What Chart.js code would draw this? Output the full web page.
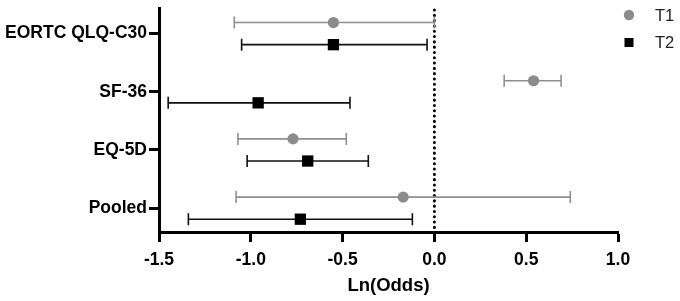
<!DOCTYPE html>
<html>
<head>
<meta charset="utf-8">
<script src="https://cdn.jsdelivr.net/npm/chart.js@4/dist/chart.umd.min.js"></script>
<style>
  html, body { margin: 0; padding: 0; background: #fff; }
  #wrap { width: 680px; height: 301px; }
</style>
</head>
<body>
<div id="wrap"><canvas id="forestChart"></canvas></div>
<script>
// Data
const categories = ['EORTC QLQ-C30', 'SF-36', 'EQ-5D', 'Pooled'];
const t1Mean  = [-0.55,  0.54, -0.77, -0.17];
const t1Lower = [-1.09,  0.38, -1.07, -1.08];
const t1Upper = [ 0.00,  0.69, -0.48,  0.74];
const t2Mean  = [-0.55, -0.96, -0.69, -0.73];
const t2Lower = [-1.05, -1.45, -1.02, -1.34];
const t2Upper = [-0.04, -0.46, -0.36, -0.12];
const xTicks  = [-1.5, -1.0, -0.5, 0.0, 0.5, 1.0];

const ROW_SHIFT = 0.19; // vertical split between T1 and T2 inside a row
const font = 'Liberation Sans, Arial, sans-serif';

function points(mean, lower, upper, shift) {
  return mean.map((m, i) => ({ x: m, y: i + shift, lo: lower[i], hi: upper[i] }));
}

// Error bars + dotted zero line
const errorBars = {
  id: 'errorBars',
  beforeDatasetsDraw(chart) {
    const { ctx, chartArea, scales: { x, y } } = chart;
    ctx.save();
    // dotted reference line
    ctx.strokeStyle = '#000';
    ctx.lineWidth = 3;
    ctx.lineCap = 'round';
    ctx.setLineDash([0.1, 5.2]);
    ctx.beginPath();
    ctx.moveTo(x.getPixelForValue(0), chartArea.top + 2);
    ctx.lineTo(x.getPixelForValue(0), chartArea.bottom);
    ctx.stroke();
    ctx.setLineDash([]);
    ctx.lineCap = 'butt';

    chart.data.datasets.forEach(ds => {
      ctx.strokeStyle = ds.barColor;
      ctx.lineWidth = 1.6;
      ds.data.forEach(p => {
        const py = y.getPixelForValue(p.y);
        const x1 = x.getPixelForValue(p.lo);
        const x2 = x.getPixelForValue(p.hi);
        ctx.beginPath();
        ctx.moveTo(x1, py); ctx.lineTo(x2, py);
        ctx.moveTo(x1, py - 6); ctx.lineTo(x1, py + 6);
        ctx.moveTo(x2, py - 6); ctx.lineTo(x2, py + 6);
        ctx.stroke();
      });
    });
    ctx.restore();
  }
};

// Legend top-right
const sideLegend = {
  id: 'sideLegend',
  afterDraw(chart) {
    const { ctx } = chart;
    ctx.save();
    ctx.font = '16.5px ' + font;
    ctx.textBaseline = 'middle';
    chart.data.datasets.forEach((ds, i) => {
      const cy = 15 + i * 27.5;
      ctx.fillStyle = ds.backgroundColor;
      if (ds.pointStyle === 'circle') {
        ctx.beginPath();
        ctx.arc(629, cy, 5.2, 0, Math.PI * 2);
        ctx.fill();
      } else {
        ctx.fillRect(624.5, cy - 4.5, 9, 9);
      }
      ctx.fillStyle = '#222';
      ctx.fillText(ds.label, 655, cy + 1);
    });
    ctx.restore();
  }
};

const ctx = document.getElementById('forestChart').getContext('2d');
new Chart(ctx, {
  type: 'scatter',
  data: {
    datasets: [
      {
        label: 'T1',
        data: points(t1Mean, t1Lower, t1Upper, -ROW_SHIFT),
        pointStyle: 'circle',
        pointRadius: 5.6,
        backgroundColor: '#8c8c8c',
        borderWidth: 0,
        barColor: '#8f8f8f'
      },
      {
        label: 'T2',
        data: points(t2Mean, t2Lower, t2Upper, ROW_SHIFT),
        pointStyle: 'rect',
        pointRadius: 8,
        backgroundColor: '#000',
        borderWidth: 0,
        barColor: '#111'
      }
    ]
  },
  options: {
    responsive: true,
    maintainAspectRatio: false,
    animation: false,
    layout: { padding: { top: 5, right: 62, left: 0, bottom: 0 } },
    plugins: {
      legend: { display: false },
      tooltip: { enabled: false }
    },
    scales: {
      x: {
        type: 'linear',
        min: -1.5,
        max: 1.0,
        afterBuildTicks: s => { s.ticks = xTicks.map(v => ({ value: v })); },
        afterFit: s => { s.height = 69; s.paddingLeft = 0; s.paddingRight = 0; },
        ticks: {
          color: '#000',
          font: { family: font, size: 17.5, weight: 'bold' },
          padding: 8,
          callback: v => v.toFixed(1)
        },
        grid: {
          drawOnChartArea: false,
          drawTicks: true,
          tickLength: 10,
          tickWidth: 3,
          tickColor: '#000'
        },
        border: { display: true, color: '#000', width: 3 },
        title: {
          display: true,
          text: 'Ln(Odds)',
          color: '#000',
          font: { family: font, size: 18.5, weight: 'bold' },
          padding: { top: 0, bottom: 4 }
        }
      },
      y: {
        type: 'linear',
        reverse: true,
        min: -0.44,
        max: 3.41,
        afterBuildTicks: s => { s.ticks = categories.map((c, i) => ({ value: i })); },
        afterFit: s => { s.width = 159; s.paddingTop = 0; s.paddingBottom = 0; },
        ticks: {
          color: '#000',
          font: { family: font, size: 17.5, weight: 'bold' },
          padding: 2,
          callback: v => categories[v]
        },
        grid: {
          drawOnChartArea: false,
          drawTicks: true,
          tickLength: 10,
          tickWidth: 3,
          tickColor: '#000'
        },
        border: { display: true, color: '#000', width: 3 }
      }
    }
  },
  plugins: [errorBars, sideLegend]
});
</script>
</body>
</html>
